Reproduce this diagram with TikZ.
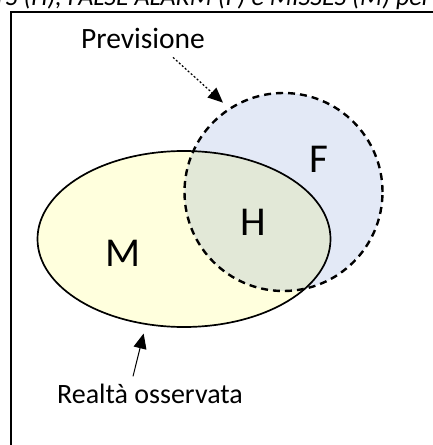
\documentclass[tikz,border=0pt]{standalone}
\usepackage{fontspec}
\setmainfont{Carlito}
\usetikzlibrary{shapes.geometric, arrows.meta, positioning}
\definecolor{obsfill}{RGB}{255,255,221}
\definecolor{fcfill}{RGB}{227,233,246}
\definecolor{hitfill}{RGB}{226,232,215}
\tikzset{
  setlbl/.style={font=\fontsize{41bp}{44bp}\selectfont, inner sep=0pt, anchor=base},
  txtlbl/.style={font=\fontsize{28bp}{32bp}\selectfont, inner sep=0pt, anchor=base},
  tipend/.tip={Triangle[length=15bp, width=13bp]},
  ptr/.style={-tipend, line width=1bp},
  dotptr/.style={ptr, line width=1.2bp, dash pattern=on 2bp off 2bp},
}

\begin{document}
\begin{tikzpicture}[x=1bp, y=-1bp,
  obs/.style={ellipse, draw, line width=1.7bp, minimum width=293bp,
              minimum height=176bp, inner sep=0pt},
  fc/.style={circle, draw, line width=2.4bp, dash pattern=on 7bp off 5bp,
             minimum size=198bp, inner sep=0pt},
]
  \useasboundingbox (0,0) rectangle (432,445);

  \node[txtlbl, anchor=base east, font=\fontsize{26bp}{30bp}\selectfont\itshape]
    (cap) at (431,6) {HITS (H), FALSE ALARM (F) e MISSES (M) per};
  \draw[line width=2bp] (11,470) -- (11,12) -- (460,12);

  \coordinate (rc) at (184,239);
  \coordinate (pc) at (283.5,192);

  \fill[obsfill] (rc) ellipse [x radius=146.5bp, y radius=88bp];
  \fill[fcfill] (pc) circle [radius=99bp];
  \begin{scope}
    \clip (rc) ellipse [x radius=146.5bp, y radius=88bp];
    \fill[hitfill] (pc) circle [radius=99bp];
  \end{scope}

  \node[obs] (real) at (rc) {};
  \node[fc] (fcst) at (pc) {};

  \node[setlbl] (lblF) at (319,173) {F};
  \node[setlbl] (lblH) at (253,235) {H};
  \node[setlbl] (lblM) at (123,266) {M};

  \node[txtlbl, font=\fontsize{29.5bp}{32bp}\selectfont] (lblprev) at (143,49) {Previsione};
  \node[txtlbl] (lblreal) at (150,403) {Realtà osservata};

  \draw[dotptr, shorten >=8bp] ([shift={(30,8)}]lblprev.south) -- (fcst.123);
  \draw[ptr, shorten >=9bp] ([shift={(-17,-7)}]lblreal.north) -- (real.246.5);

\end{tikzpicture}
\end{document}
